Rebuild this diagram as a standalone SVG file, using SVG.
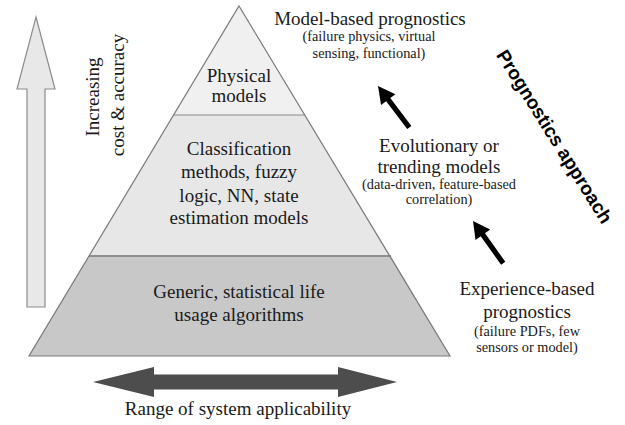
<svg xmlns="http://www.w3.org/2000/svg" width="625" height="425" viewBox="0 0 625 425">
<style>
.t{font-family:'Liberation Serif','Times New Roman','DejaVu Serif',serif;font-size:19px;fill:#1a1a1a;text-anchor:middle}
.s{font-family:'Liberation Serif','Times New Roman','DejaVu Serif',serif;font-size:14.3px;fill:#1a1a1a;text-anchor:middle}
.b{font-family:'Liberation Sans',Arial,sans-serif;font-size:19px;font-weight:bold;fill:#000;text-anchor:middle}
.layer{stroke:none}
.blk{fill:#000}
</style>
<defs>
<path id="blkArrow" d="M0,0 L17,-9 L17,-2.6 L52,-2.6 L52,2.6 L17,2.6 L17,9 Z"/>
</defs>
<rect width="625" height="425" fill="#fff"/>
<g id="pyramid" font-family="Liberation Serif, Times New Roman, serif">
<g id="layer-physical">
<polygon class="layer" points="239,6 305,115 174,115" fill="#f0f0f0"/>
<text class="t" x="239" y="82">Physical</text>
<text class="t" x="239" y="102">models</text>
</g>
<g id="layer-classification">
<polygon class="layer" points="174,115 305,115 391,256 89,256" fill="#e7e7e7"/>
<text class="t" x="239" y="155">Classification</text>
<text class="t" x="239" y="178">methods, fuzzy</text>
<text class="t" x="239" y="202">logic, NN, state</text>
<text class="t" x="239" y="224">estimation models</text>
</g>
<g id="layer-generic">
<polygon class="layer" points="89,256 391,256 450,356 29,356" fill="#c8c8c8"/>
<text class="t" x="239" y="298">Generic, statistical life</text>
<text class="t" x="239" y="321">usage algorithms</text>
</g>
<line x1="174" y1="115" x2="305" y2="115" stroke="#8a8a8a" stroke-width="1.2"/>
<line x1="89" y1="256" x2="391" y2="256" stroke="#8f8f8f" stroke-width="2"/>
<polygon points="239,6 450,356 29,356" fill="none" stroke="#7a7a7a" stroke-width="1.2"/>
</g>
<g id="cost-axis">
<polygon points="36,17 55,89 45,89 45,307 27,307 27,89 17,89" fill="#e8e8e8" stroke="#8c8c8c" stroke-width="1.2"/>
<text class="t" transform="translate(99,97) rotate(-90)">Increasing</text>
<text class="t" transform="translate(124,95) rotate(-90)">cost &amp; accuracy</text>
</g>
<g id="range-axis">
<polygon points="93,382 154,367 154,374.5 338,374.5 338,367 397,382 338,397 338,389.5 154,389.5 154,397" fill="#4d4d4d"/>
<text class="t" x="238" y="415">Range of system applicability</text>
</g>
<g id="model-based">
<text class="t" x="370" y="25">Model-based prognostics</text>
<text class="s" x="369" y="41">(failure physics, virtual</text>
<text class="s" x="369" y="58">sensing, functional)</text>
</g>
<g id="evolutionary">
<text class="t" x="439" y="152">Evolutionary or</text>
<text class="t" x="439" y="173">trending models</text>
<text class="s" x="439" y="189">(data-driven, feature-based</text>
<text class="s" x="439" y="204">correlation)</text>
</g>
<g id="experience-based">
<text class="t" x="527" y="295">Experience-based</text>
<text class="t" x="527" y="318">prognostics</text>
<text class="s" x="527" y="336">(failure PDFs, few</text>
<text class="s" x="527" y="352">sensors or model)</text>
</g>
<g id="prognostics-approach">
<text class="b" transform="translate(549,140) rotate(58)">Prognostics approach</text>
</g>
<g id="connectors">
<use href="#blkArrow" class="blk" transform="translate(378,86) rotate(53)"/>
<use href="#blkArrow" class="blk" transform="translate(473,221) rotate(54.5)"/>
</g>
</svg>
